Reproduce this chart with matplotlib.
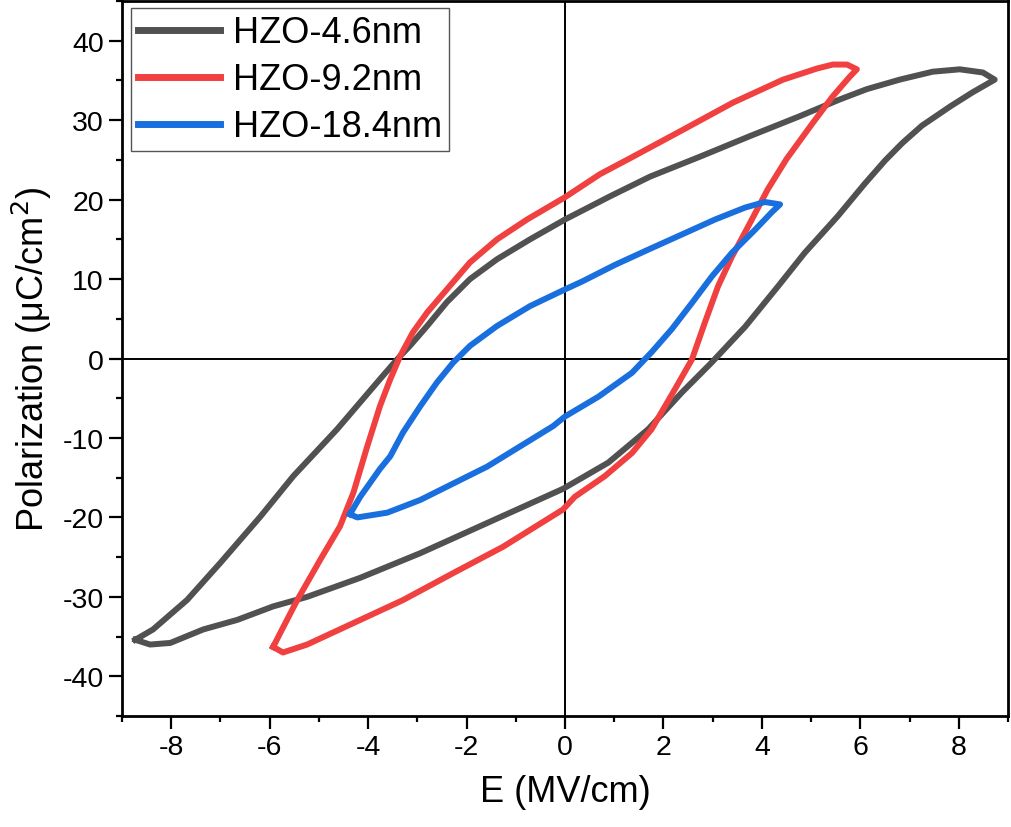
import matplotlib.pyplot as plt
import numpy

plt.rcParams['font.family'] = ['Liberation Sans', 'DejaVu Sans']
plt.rcParams['axes.unicode_minus'] = False

# HZO-4.6nm loop (E in MV/cm, P in uC/cm2)
e_46 = [-8.73, -8.43, -8.02, -7.35, -6.66, -5.93, -5.24, -4.16, -2.94, -1.58, -0.04,
        0.88, 1.69, 2.37, 2.98, 3.66, 4.33, 4.87, 5.54, 6.09, 6.50, 6.85, 7.25, 7.82, 8.28, 8.73,
        8.49, 8.02, 7.47, 6.80, 6.13, 5.58, 4.77, 3.76, 2.74, 1.73, 0.91, 0.00,
        -0.71, -1.38, -1.93, -2.40, -2.80, -3.15, -3.41, -3.76, -4.16, -4.63, -5.52, -6.19, -7.00, -7.68, -8.37, -8.73]
p_46 = [-35.4, -36.0, -35.8, -34.1, -32.9, -31.2, -30.0, -27.6, -24.5, -20.7, -16.4,
        -13.1, -8.9, -4.3, -0.5, 4.0, 9.1, 13.3, 17.9, 22.0, 24.9, 27.1, 29.3, 31.7, 33.5, 35.1,
        36.0, 36.4, 36.1, 35.1, 33.9, 32.6, 30.5, 28.0, 25.4, 22.9, 20.4, 17.5,
        15.0, 12.5, 10.0, 7.1, 4.1, 1.6, -0.1, -2.6, -5.5, -8.9, -14.8, -19.9, -25.7, -30.4, -34.1, -35.4]

# HZO-9.2nm loop
e_92 = [-5.93, -5.73, -5.24, -4.30, -3.29, -2.27, -1.26, -0.04,
        0.20, 0.81, 1.36, 1.76, 2.23, 2.58, 2.84, 3.11, 3.39, 3.72, 4.12, 4.50, 5.04, 5.44, 5.79, 5.93,
        5.73, 5.44, 5.12, 4.43, 3.41, 2.40, 1.38, 0.71, 0.00,
        -0.77, -1.38, -1.93, -2.40, -2.80, -3.09, -3.35, -3.55, -3.76, -4.02, -4.30, -4.57, -4.97, -5.44, -5.79, -5.93]
p_92 = [-36.3, -37.0, -36.0, -33.3, -30.4, -27.0, -23.7, -19.0,
        -17.4, -14.8, -11.9, -8.9, -3.9, -0.1, 4.5, 9.1, 12.8, 16.6, 21.3, 25.1, 29.7, 33.0, 35.5, 36.4,
        37.0, 37.0, 36.5, 35.1, 32.2, 28.8, 25.4, 23.2, 20.3,
        17.5, 15.0, 12.1, 8.7, 5.8, 3.3, 0.3, -2.6, -6.0, -11.1, -16.9, -21.1, -25.3, -30.4, -34.6, -36.3]

# HZO-18.4nm loop
e_184 = [-4.37, -4.22, -3.61, -2.94, -1.58, -0.24, 0.00, 0.68, 1.36, 1.76, 2.17, 2.58, 2.98, 3.39, 3.86, 4.20, 4.37,
         4.06, 3.66, 3.05, 2.37, 1.69, 1.02, 0.35, 0.00,
         -0.71, -1.38, -1.93, -2.27, -2.60, -2.94, -3.29, -3.55, -3.76, -4.16, -4.37]
p_184 = [-19.6, -20.0, -19.4, -17.8, -13.6, -8.5, -7.3, -4.8, -1.8, 0.8, 3.7, 7.0, 10.3, 13.3, 16.2, 18.4, 19.4,
         19.7, 19.0, 17.5, 15.6, 13.7, 11.8, 9.7, 8.7,
         6.6, 4.1, 1.6, -0.5, -3.0, -6.0, -9.3, -12.3, -13.9, -17.4, -19.6]

labels = ['HZO-4.6nm', 'HZO-9.2nm', 'HZO-18.4nm']
colors = ['#515151', '#F14040', '#1A6FDF']

fig = plt.figure(figsize = (10.11, 8.28), dpi = 100)
ax = fig.add_axes([0.1207, 0.134, 0.8763, 0.8636])

ax.axhline(0, color = 'black', linewidth = 1.4, zorder = 1)
ax.axvline(0, color = 'black', linewidth = 1.4, zorder = 1)

for E, P, lab, col in zip([e_46, e_92, e_184], [p_46, p_92, p_184], labels, colors):
    ax.plot(E, P, color = col, linewidth = 4.3, label = lab, solid_joinstyle = 'round', zorder = 2)

ax.set_xlim(-9, 9)
ax.set_ylim(-45, 45)
ax.set_xticks(numpy.arange(-8, 9, 2))
ax.set_xticks(numpy.arange(-9, 10, 2), minor = True)
ax.set_yticks(numpy.arange(-40, 41, 10))
ax.set_yticks(numpy.arange(-45, 46, 10), minor = True)
ax.tick_params(which = 'major', direction = 'out', length = 9.5, width = 1.6, labelsize = 20.5)
ax.tick_params(which = 'minor', direction = 'out', length = 4.5, width = 1.6)
for s in ax.spines.values():
    s.set_linewidth(2.0)

ax.set_xlabel('E (MV/cm)', fontsize = 26, labelpad = 10)
ax.set_ylabel('Polarization (μC/cm$^2$)', fontsize = 26, labelpad = 6)

leg = ax.legend(loc = 'upper left', bbox_to_anchor = (0.0102, 0.990), borderaxespad = 0,
                fontsize = 26, handlelength = 2.25, handletextpad = 0.36, labelspacing = 0.33,
                fancybox = False, framealpha = 1, edgecolor = '#555555', borderpad = 0.2)
leg.get_frame().set_linewidth(1.0)
for h in leg.get_lines():
    h.set_linewidth(5)

plt.savefig('out.png', dpi = 100)
